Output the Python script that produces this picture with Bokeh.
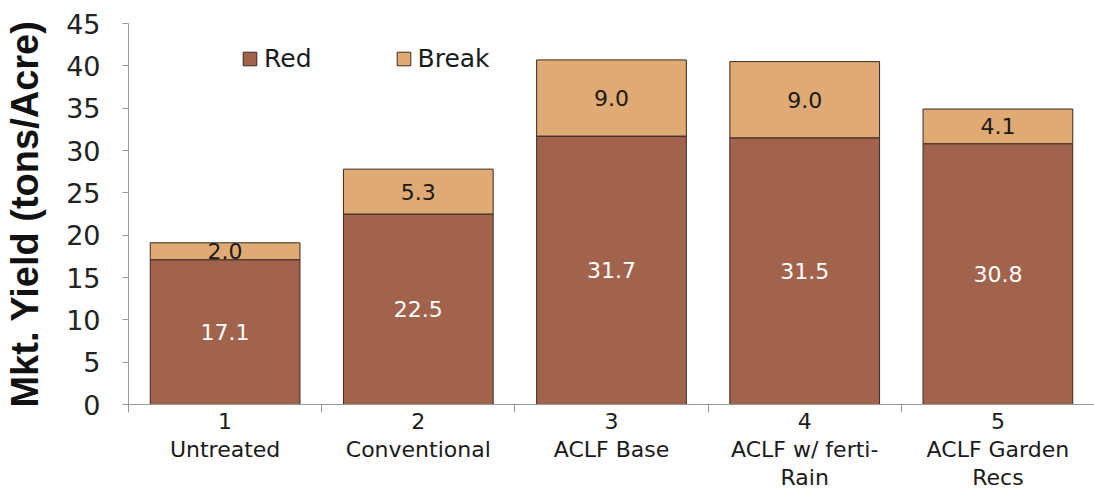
from bokeh.plotting import figure
from bokeh.models import (ColumnDataSource, Range1d, FixedTicker, Legend, LegendItem)
from bokeh.core.properties import value
from bokeh.embed import file_html
from bokeh.resources import INLINE

treatments = ["1\nUntreated", "2\nConventional", "3\nACLF Base", "4\nACLF w/ ferti-\nRain", "5\nACLF Garden\nRecs"]
positions = [1, 2, 3, 4, 5]
red = [17.1, 22.5, 31.7, 31.5, 30.8]
brk = [2.0, 5.3, 9.0, 9.0, 4.1]
y_ticks = [0, 5, 10, 15, 20, 25, 30, 35, 40, 45]

RED_C = "#A2634D"
BRK_C = "#E0AA74"
EDGE = "#3a2a22"
TICK_FONT = "DejaVu Sans"

total = [r + b for r, b in zip(red, brk)]
src = ColumnDataSource(dict(
    x=positions, red=red, brk=brk, total=total,
    zero=[0] * len(red),
    red_mid=[r / 2 for r in red],
    brk_mid=[r + b / 2 for r, b in zip(red, brk)],
    red_lbl=[f"{v:.1f}" for v in red],
    brk_lbl=[f"{v:.1f}" for v in brk],
))

p = figure(width=1094, height=492, output_backend="svg", toolbar_location=None,
           x_range=Range1d(0.5, 5.5), y_range=Range1d(0, 45),
           min_border_left=128, min_border_top=23, min_border_bottom=86, min_border_right=0)
p.outline_line_color = None
p.xgrid.grid_line_color = None
p.ygrid.grid_line_color = None
p.background_fill_color = "white"
p.border_fill_color = "white"

r_red = p.vbar(x="x", width=0.775, bottom="zero", top="red", source=src,
               fill_color=RED_C, line_color=EDGE, line_width=1)
r_brk = p.vbar(x="x", width=0.775, bottom="red", top="total", source=src,
               fill_color=BRK_C, line_color=EDGE, line_width=1)

p.text(x="x", y="red_mid", text="red_lbl", source=src, text_align="center",
       text_baseline="middle", text_color="white", text_font=value(TICK_FONT),
       text_font_size="22px")
p.text(x="x", y="brk_mid", text="brk_lbl", source=src, text_align="center",
       text_baseline="middle", text_color="#1a1a1a", text_font=value(TICK_FONT),
       text_font_size="22px")

# x axis
xa = p.xaxis[0]
xa.ticker = FixedTicker(ticks=positions, minor_ticks=[0.5, 1.5, 2.5, 3.5, 4.5, 5.5])
xa.major_label_overrides = {pos: lab for pos, lab in zip(positions, treatments)}
xa.major_tick_line_color = None
xa.major_tick_out = 0
xa.major_tick_in = 0
xa.minor_tick_out = 8
xa.minor_tick_in = 0
xa.minor_tick_line_color = "#999999"
xa.axis_line_color = "#999999"
xa.major_label_text_font = TICK_FONT
xa.major_label_text_font_size = "22px"
xa.major_label_text_color = "#1a1a1a"
xa.major_label_text_line_height = 1.12
xa.major_label_standoff = -4

# y axis
ya = p.yaxis[0]
ya.ticker = FixedTicker(ticks=y_ticks)
ya.minor_tick_line_color = None
ya.major_tick_out = 6
ya.major_tick_in = 0
ya.major_tick_line_color = "#999999"
ya.axis_line_color = "#999999"
ya.major_label_text_font = TICK_FONT
ya.major_label_text_font_size = "27px"
ya.major_label_text_color = "#222222"
ya.major_label_standoff = 22
ya.axis_label = "Mkt. Yield (tons/Acre)"
ya.axis_label_text_font = "Liberation Sans"
ya.axis_label_text_font_style = "bold"
ya.axis_label_text_font_size = "38px"
ya.axis_label_text_color = "#111111"
ya.axis_label_standoff = 17

legend = Legend(items=[LegendItem(label="Red", renderers=[r_red]),
                       LegendItem(label="Break", renderers=[r_brk])],
                orientation="horizontal", location=(113, 331),
                glyph_width=17, glyph_height=17, label_height=25,
                label_standoff=6, spacing=83, padding=0, margin=0,
                label_text_font=TICK_FONT, label_text_font_size="25px",
                label_text_color="#1a1a1a",
                border_line_color=None, background_fill_alpha=0)
p.add_layout(legend, "center")

open("out.html", "w").write(file_html(p, INLINE))
